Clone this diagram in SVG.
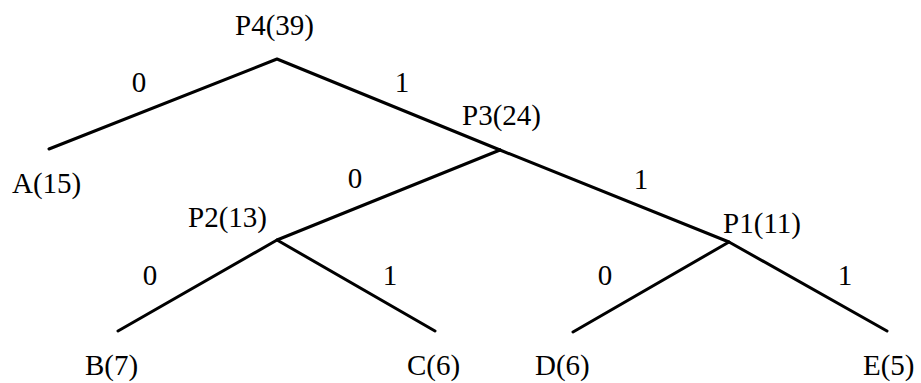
<svg xmlns="http://www.w3.org/2000/svg" width="921" height="383" viewBox="0 0 921 383">
<style>
.e{stroke:#000;stroke-width:3;fill:none;stroke-linecap:round;stroke-linejoin:round}
text{font-family:"Liberation Serif","Times New Roman",serif;font-size:29px;fill:#000}
</style>
<rect width="921" height="383" fill="#fff"/>
<g id="connectors">
<polyline class="e" points="49,149 277,59 500,150"/>
<polyline class="e" points="500,150 729,242 887,331"/>
<polyline class="e" points="277,240 500,150"/>
<polyline class="e" points="118,331 277,240 435,331"/>
<polyline class="e" points="573,332 729,242"/>
<text x="139" y="92" text-anchor="middle">0</text>
<text x="402" y="92" text-anchor="middle">1</text>
<text x="355" y="188" text-anchor="middle">0</text>
<text x="641" y="189" text-anchor="middle">1</text>
<text x="150" y="285" text-anchor="middle">0</text>
<text x="390" y="285" text-anchor="middle">1</text>
<text x="605" y="285" text-anchor="middle">0</text>
<text x="845" y="285" text-anchor="middle">1</text>
</g>
<g id="P4"><text x="235" y="35">P4(39)</text></g>
<g id="P3"><text x="462" y="125">P3(24)</text></g>
<g id="P2"><text x="188" y="227">P2(13)</text></g>
<g id="P1"><text x="723" y="233">P1(11)</text></g>
<g id="A"><text x="12" y="193">A(15)</text></g>
<g id="B"><text x="85" y="375">B(7)</text></g>
<g id="C"><text x="407" y="375">C(6)</text></g>
<g id="D"><text x="535" y="375">D(6)</text></g>
<g id="E"><text x="863" y="375">E(5)</text></g>
</svg>
